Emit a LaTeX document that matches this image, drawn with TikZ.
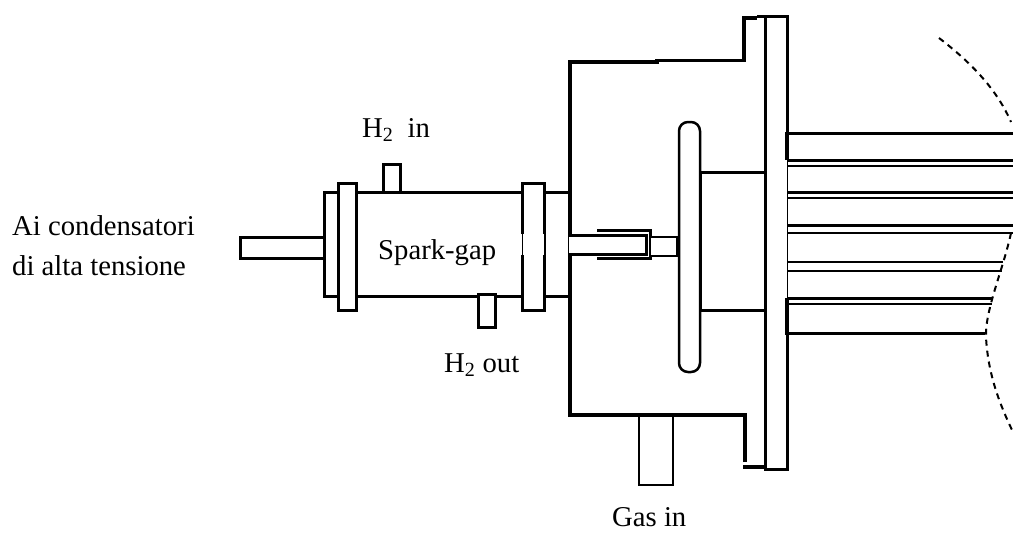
\documentclass[tikz,border=0pt]{standalone}
\usepackage{fontspec}
\setmainfont{Liberation Serif}
\usepackage{tikz}
\usetikzlibrary{calc}
\tikzset{wall/.style={
         color=black,line width=#1,line join=miter,fill=white}}
\tikzset{tube/.style={
         color=black,line width=#1}}
\tikzset{edge/.style={
         color=black,line width=2pt,dash pattern=on 6pt off 5pt}}
\tikzset{label/.style={
         font=\fontsize{28.7}{31}\selectfont,inner sep=0pt,anchor=west}}

\begin{document}
\begin{tikzpicture}[x=1pt,y=-1pt]
\useasboundingbox (0,0) rectangle (1013,533);

% spark-gap
\begin{scope}
\draw [wall=3pt] (240.5,237) rectangle (324,258);
\draw [wall=3pt] (324,192) rectangle (544,296);
\draw [wall=3pt] (383.5,164) rectangle (400,192);
\draw [wall=3pt] (478,294) rectangle (495,327);
\draw [wall=3pt] (338,183) rectangle (356,310);
\fill [white] (522,183) rectangle (544,310);
\draw [tube=3pt] (522,234) -- (522,183) -- (544,183) -- (544,234);
\draw [tube=3pt] (522,255) -- (522,310) -- (544,310) -- (544,255);
\foreach \x in {522,544} {\draw [tube=1pt] (\x,234) -- (\x,255);}
\draw [tube=3pt] (544,192) -- (570,192);
\draw [tube=3pt] (544,296) -- (570,296);
\end{scope}

% camera
\begin{scope}
\draw [wall=2.5pt] (639,415) rectangle (673,485);
\draw [tube=3.5pt] (745,462) -- (745,415) -- (570,415) -- (570,62) -- (657,62) -- (657,60.5) -- (744,60.5) -- (744,18) -- (757,18);
\draw [tube=3.5pt] (757,16.5) -- (765,16.5);
\draw [tube=3.5pt] (743,467) -- (765,467);
\draw [wall=3pt] (700,172.5) rectangle (765,310);
\draw [wall=3pt] (765,16) rectangle (787,469);
\draw [wall=2.5pt,rounded corners=9pt] (679,122) rectangle (700,372);
\draw [tube=2.5pt] (700,172.5) -- (700,310);
% elettrodo
\draw [tube=3pt] (597,230.5) -- (650,230.5) -- (650,258) -- (597,258);
\draw [wall=2.5pt] (650,237) rectangle (677,256);
\draw [wall=3pt] (569,235) -- (646,235) -- (646,254) -- (569,254);
\end{scope}

% tubi
\begin{scope}
\fill [white] (786,160) rectangle (789,298);
\draw [tube=1pt] (787,160) -- (787,298);
\draw [tube=3pt] (1013,133) -- (786,133) -- (786,160);
\draw [tube=3pt] (786,298) -- (786,333.5) -- (985,333.5);
\foreach \y/\x in {160.5/1013,192.5/1013,225.5/1013,298.5/993} {\draw [tube=3.5pt] (787,\y) -- (\x,\y);}
\foreach \y/\x in {165.5/1013,198/1013,233/1013,262/1003,271/1002,304/992} {\draw [tube=2pt] (787,\y) -- (\x,\y);}
\draw [edge] (939,38) .. controls (965,58) and (995,85) .. (1011,122);
\draw [edge] (1011,233) .. controls (1003,270) and (985,310) .. (986,337) .. controls (988,375) and (1000,405) .. (1013,432);
\end{scope}

% testi
\node (capacitors1) at (12,226) [label] {Ai condensatori};
\node (capacitors2) at (12,266) [label] {di alta tensione};
\node (sparkgap) at (378,252.5) [label] {Spark-gap};
\node (h2in) at (362,130) [label] {H\textsubscript{2}\hspace{7pt} in};
\node (h2out) at (444,365) [label] {H\textsubscript{2} out};
\node (gasin) at (612,517.5) [label] {Gas in};

\end{tikzpicture}
\end{document}
